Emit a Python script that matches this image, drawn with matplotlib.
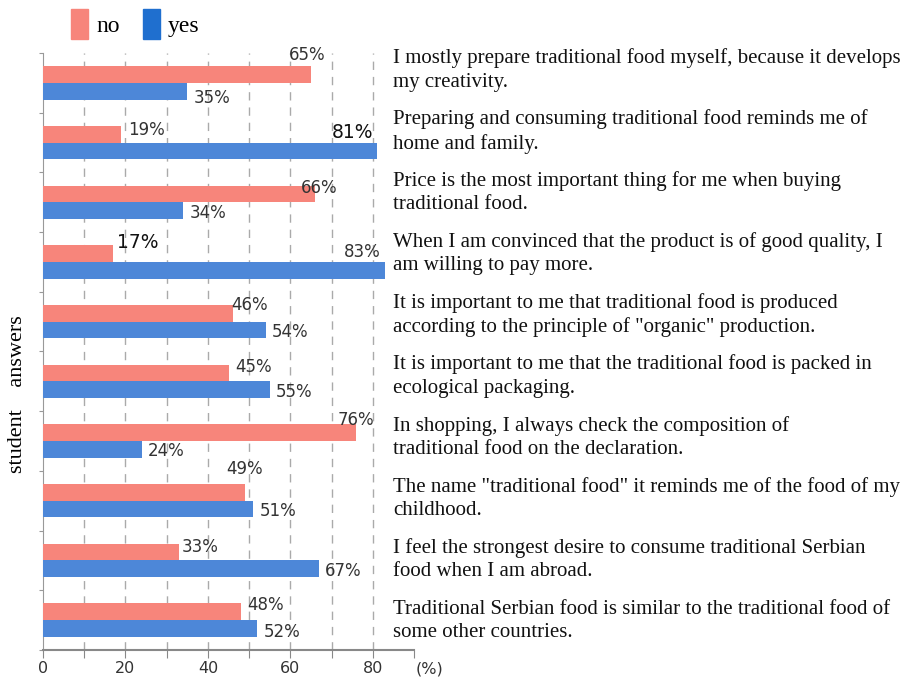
import matplotlib.pyplot as plt
from matplotlib.patches import Patch
import numpy as np

statements = [
    'I mostly prepare traditional food myself, because it develops\nmy creativity.',
    'Preparing and consuming traditional food reminds me of\nhome and family.',
    'Price is the most important thing for me when buying\ntraditional food.',
    'When I am convinced that the product is of good quality, I\nam willing to pay more.',
    'It is important to me that traditional food is produced\naccording to the principle of "organic" production.',
    'It is important to me that the traditional food is packed in\necological packaging.',
    'In shopping, I always check the composition of\ntraditional food on the declaration.',
    'The name "traditional food" it reminds me of the food of my\nchildhood.',
    'I feel the strongest desire to consume traditional Serbian\nfood when I am abroad.',
    'Traditional Serbian food is similar to the traditional food of\nsome other countries.',
]
no_pct = [65, 19, 66, 17, 46, 45, 76, 49, 33, 48]
yes_pct = [35, 81, 34, 83, 54, 55, 24, 51, 67, 52]

# hand nudges for the value labels (x in % units, y in points)
no_dx = [-1, 6, 1, 6, 4, 6, 0, 0, 5, 6]
no_dy = [8, -3, -2, 2, 0, -2, 3, 11, -2, -1]
yes_dy = [-5, 1, -1.5, 1, -1.5, -1.5, -1.5, -1.5, -1.5, -2.5]

no_color = '#F7857B'
yes_color = '#4D87D8'
serif = 'Liberation Serif'
W, H = 911, 677

fig = plt.figure(figsize=(W/100, H/100), dpi=100)
ax = fig.add_axes([43/W, 1 - 650/H, (414 - 43)/W, (650 - 53)/H])

n = len(statements)
ypos = np.arange(n)[::-1]
h = 0.28
ax.barh(ypos + h/2, no_pct, height=h, color=no_color, zorder=3)
ax.barh(ypos - h/2, yes_pct, height=h, color=yes_color, zorder=3)

ax.set_xlim(0, 90)
ax.set_ylim(-0.5, n - 0.5)

# value labels
for y, v, dx, dy in zip(ypos, no_pct, no_dx, no_dy):
    big = v == 17
    ax.annotate(f'{v}%', (v + dx, y + h), xytext=(0, dy), textcoords='offset points',
                ha='center', va='center', fontsize=13.5 if big else 12,
                color='#111111' if big else '#333333', zorder=4)
for y, v, dy in zip(ypos, yes_pct, yes_dy):
    if v > 78:
        # long bars get the label tucked in above their end
        big = v == 81
        ax.annotate(f'{v}%', (v - 1, y + h/2), xytext=(0, dy), textcoords='offset points',
                    ha='right', va='center', fontsize=13.5 if big else 12,
                    color='#111111' if big else '#333333', zorder=4)
    else:
        ax.annotate(f'{v}%', (v + 1.5, y - h/2), xytext=(0, dy), textcoords='offset points',
                    ha='left', va='center', fontsize=12, color='#333333', zorder=4)

# statements to the right of the bars, spaced a little wider than the bars
text_y = np.linspace(70, 621, n)
for ty, s in zip(text_y, statements):
    fig.text(393/W, 1 - ty/H, s, ha='left', va='center',
             fontsize=15, family=serif, linespacing=1.32, color='#111111')

ax.set_xticks(np.arange(0, 91, 10))
ax.set_xticklabels(['0', '', '20', '', '40', '', '60', '', '80', ''])
ax.tick_params(axis='x', length=6, color='#888888', labelsize=11.5, labelcolor='#333333', pad=2)
ax.set_yticks(np.arange(n + 1) - 0.5)
ax.set_yticklabels([])
ax.tick_params(axis='y', length=3, color='#999999')
for x in range(10, 81, 10):
    ax.axvline(x, color='#aaaaaa', lw=1, ls=(0, (6, 5)), zorder=1)

for side in ['top', 'right']:
    ax.spines[side].set_visible(False)
ax.spines['left'].set_color('#999999')
ax.spines['bottom'].set_color('#888888')
ax.spines['bottom'].set_linewidth(1.5)

ax.annotate('(%)', (90, 0), xycoords=('data', 'axes fraction'), xytext=(1, -8),
            textcoords='offset points', ha='left', va='top', fontsize=11.5, color='#333333')

fig.text(18/W, 1 - 394/H, 'student    answers', rotation=90, ha='center', va='center',
         fontsize=16, family=serif)

handles = [Patch(color=no_color), Patch(color='#1F6FCF')]
fig.legend(handles, ['no', 'yes'], loc='center left', bbox_to_anchor=(50/W, 1 - 24/H),
           ncol=2, frameon=False, prop={'family': serif, 'size': 17},
           handlelength=0.7, handleheight=1.6, handletextpad=0.35, columnspacing=1.0)

fig.savefig('out.png', dpi=100)
